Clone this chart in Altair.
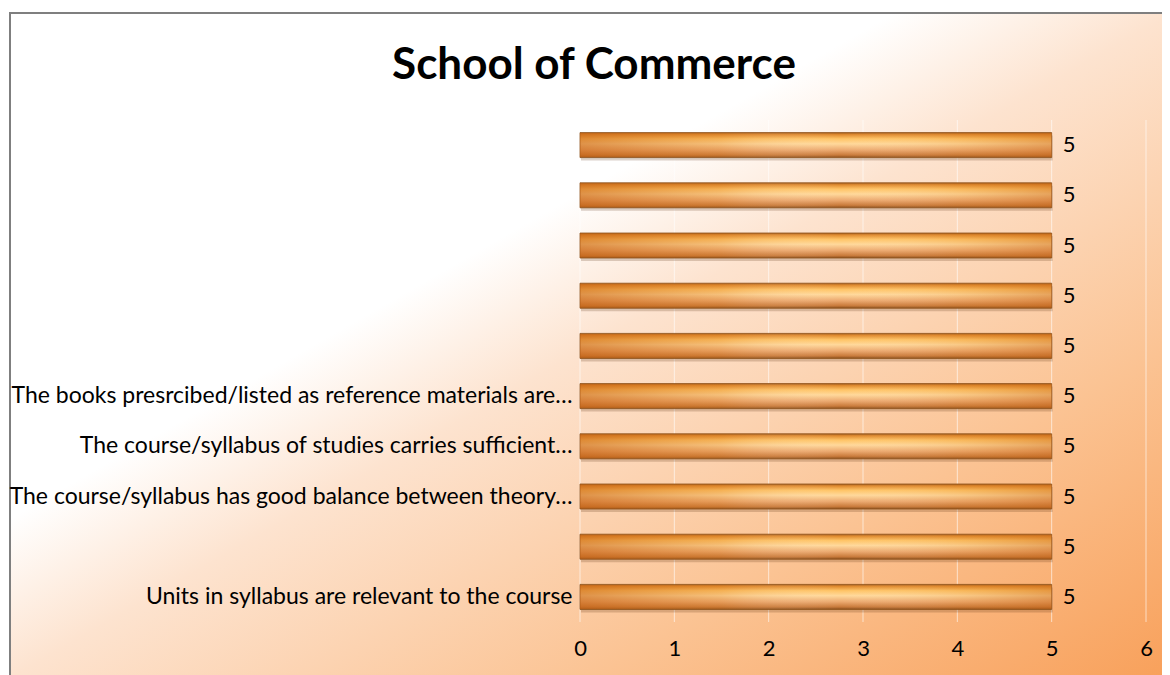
import altair as alt
import pandas as pd

# Categories listed top to bottom (blank labels are distinct whitespace strings)
categories = [
    " ",
    "  ",
    "   ",
    "    ",
    "     ",
    "The books presrcibed/listed as reference materials are…",
    "The course/syllabus of studies carries sufficient…",
    "The course/syllabus has good balance between theory…",
    "      ",
    "Units in syllabus are relevant to the course ",
]
values = [5, 5, 5, 5, 5, 5, 5, 5, 5, 5]
tick_values = [0, 1, 2, 3, 4, 5, 6]

df = pd.DataFrame({"cat": categories, "val": values})
ticks_df = pd.DataFrame({"val": tick_values})

FONT = "Lato"
W, H = 566, 502

xscale = alt.Scale(domain=[0, 6], nice=False, zero=True)
ysort = categories

x_axis = alt.Axis(
    values=tick_values, grid=False, domain=False, ticks=False,
    labelFont=FONT, labelFontSize=22, labelColor="#000000",
    labelPadding=16, labelFlush=False, zindex=1, title=None,
)
y_axis = alt.Axis(
    grid=False, domain=False, ticks=False,
    labelFont=FONT, labelFontSize=23, labelColor="#000000",
    labelPadding=8, labelLimit=0, zindex=1, title=None,
)

bg_gradient = {
    "gradient": "linear",
    "x1": 0, "y1": 0, "x2": 1, "y2": 1,
    "stops": [
        {"offset": 0.0, "color": "#FFFFFF"},
        {"offset": 0.38, "color": "#FFFFFF"},
        {"offset": 0.5, "color": "#FDE3CF"},
        {"offset": 0.75, "color": "#FBC393"},
        {"offset": 1.0, "color": "#F8A05A"},
    ],
}

bar_gradient = {
    "gradient": "linear",
    "x1": 0, "y1": 0, "x2": 0, "y2": 1,
    "stops": [
        {"offset": 0.0, "color": "#A35E1E"},
        {"offset": 0.08, "color": "#E08A2E"},
        {"offset": 0.25, "color": "#FFC466"},
        {"offset": 0.45, "color": "#FFD89A"},
        {"offset": 0.7, "color": "#EBA86E"},
        {"offset": 0.9, "color": "#C97A3A"},
        {"offset": 1.0, "color": "#8B4F1C"},
    ],
}

bar_overlay = {
    "gradient": "linear",
    "x1": 0, "y1": 0, "x2": 1, "y2": 0,
    "stops": [
        {"offset": 0.0, "color": "rgba(200,100,20,0.6)"},
        {"offset": 0.3, "color": "rgba(215,120,30,0.25)"},
        {"offset": 0.55, "color": "rgba(255,255,255,0)"},
        {"offset": 0.8, "color": "rgba(215,120,30,0.15)"},
        {"offset": 1.0, "color": "rgba(200,100,20,0.45)"},
    ],
}

bg = alt.Chart(alt.Data(values=[{"k": 1}])).mark_rect(
    fill=bg_gradient, stroke="#7F7F7F", strokeWidth=2
).encode(
    x=alt.value(-570), x2=alt.value(593), y=alt.value(-107), y2=alt.value(558)
)

grid = alt.Chart(ticks_df).mark_rule(color="#FFFFFF", opacity=0.6, strokeWidth=1).encode(
    x=alt.X("val:Q", scale=xscale, axis=x_axis),
    y=alt.value(0),
    y2=alt.value(H),
)

shadow = alt.Chart(df).mark_bar(
    color="#5a3210", opacity=0.22, size=25, yOffset=3, xOffset=1
).encode(
    x=alt.X("val:Q", scale=xscale, axis=x_axis),
    y=alt.Y("cat:N", sort=ysort, axis=y_axis),
)

bars = alt.Chart(df).mark_bar(
    fill=bar_gradient, stroke="#8E5219", strokeWidth=0.8, size=25
).encode(
    x=alt.X("val:Q", scale=xscale, axis=x_axis),
    y=alt.Y("cat:N", sort=ysort, axis=y_axis),
)

bars_shine = alt.Chart(df).mark_bar(
    fill=bar_overlay, size=24
).encode(
    x=alt.X("val:Q", scale=xscale, axis=x_axis),
    y=alt.Y("cat:N", sort=ysort, axis=y_axis),
)

labels = alt.Chart(df).mark_text(
    align="left", baseline="middle", dx=11, font=FONT, fontSize=22, color="#000000"
).encode(
    x=alt.X("val:Q", scale=xscale, axis=x_axis),
    y=alt.Y("cat:N", sort=ysort, axis=y_axis),
    text=alt.Text("val:Q"),
)

chart = alt.layer(bg, grid, shadow, bars, bars_shine, labels).properties(
    width=W,
    height=H,
    padding={"left": 572, "top": 112, "right": 16, "bottom": 53},
    autosize=alt.AutoSizeParams(type="none"),
    title=alt.TitleParams(
        "School of Commerce",
        font=FONT,
        fontSize=44,
        fontWeight="bold",
        color="#000000",
        anchor="middle",
        dx=-269,
        offset=-76,
    ),
).configure(background="#FFFFFF").configure_view(stroke=None)

chart.save("out.html", embed_options={"renderer": "svg", "actions": False})
